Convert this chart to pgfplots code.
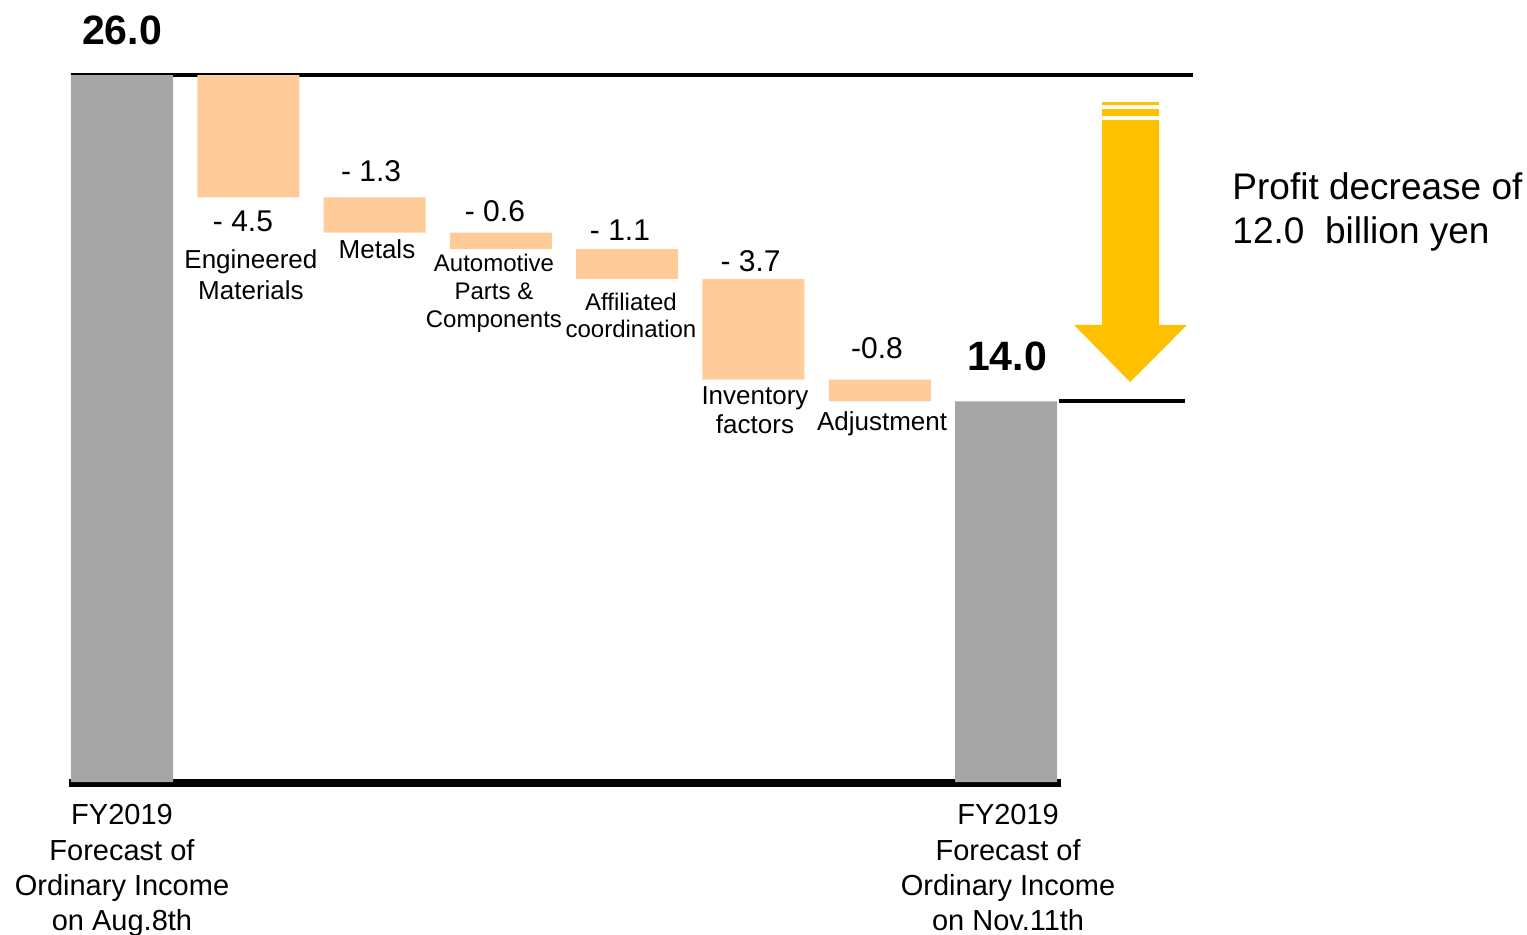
\documentclass[border=0pt]{standalone}
\usepackage{pgfplots}
\pgfplotsset{compat=1.18}
\usepackage{fontspec}
\setmainfont{Liberation Sans}
\definecolor{grayb}{HTML}{A6A6A6}
\definecolor{peach}{HTML}{FFCC99}
\definecolor{gold}{HTML}{FFC000}
\newcommand{\fnum}{\fontsize{30bp}{36bp}\selectfont}
\newcommand{\flab}{\fontsize{26bp}{31bp}\selectfont}
\newcommand{\fsm}{\fontsize{24bp}{29bp}\selectfont}
\newcommand{\fbot}{\fontsize{29bp}{35bp}\selectfont}
\newcommand{\fbig}{\fontsize{41bp}{48bp}\selectfont\bfseries}
\newcommand{\fside}{\fontsize{37bp}{45bp}\selectfont}
\begin{document}
\begin{tikzpicture}
\begin{axis}[
  width=1527bp, height=934bp, scale only axis,
  xmin=-0.966, xmax=11.125, ymin=-5.59, ymax=28.76,
  hide axis, clip=false,
  ybar stacked, bar width=102bp,
  every node/.style={inner sep=0pt, outer sep=0pt},
]
% invisible base
\addplot[draw=none, fill=none] coordinates {(0,0) (1,21.5) (2,20.2) (3,19.6) (4,18.5) (5,14.8) (6,14.0) (7,0)};
% totals
\addplot[draw=none, fill=grayb] coordinates {(0,26.0) (1,0) (2,0) (3,0) (4,0) (5,0) (6,0) (7,14.0)};
% changes
\addplot[draw=none, fill=peach] coordinates {(0,0) (1,4.5) (2,1.3) (3,0.6) (4,1.1) (5,3.7) (6,0.8) (7,0)};

% reference lines
\draw[line width=4bp] (axis cs:-0.404,26) -- (axis cs:8.481,26);
\draw[line width=8bp] (axis cs:-0.420,-0.037) -- (axis cs:7.435,-0.037);
\draw[line width=4bp] (axis cs:7.419,14) -- (axis cs:8.417,14);

% arrow
\fill[gold] (axis cs:7.760,24.35) -- (axis cs:8.211,24.35) -- (axis cs:8.211,16.81)
  -- (axis cs:8.433,16.81) -- (axis cs:7.982,14.71) -- (axis cs:7.538,16.81)
  -- (axis cs:7.760,16.81) -- cycle;
\fill[gold] (axis cs:7.760,25.01) rectangle (axis cs:8.211,24.90);
\fill[gold] (axis cs:7.760,24.75) rectangle (axis cs:8.211,24.49);

% value labels
\node[anchor=base] at (axis cs:0,27.11) {\fbig 26.0};
\node[anchor=base] at (axis cs:7.007,15.12) {\fbig 14.0};
\node[anchor=base] at (axis cs:0.958,20.23) {\fnum - 4.5};
\node[anchor=base] at (axis cs:1.972,22.07) {\fnum - 1.3};
\node[anchor=base] at (axis cs:2.953,20.63) {\fnum - 0.6};
\node[anchor=base] at (axis cs:3.943,19.93) {\fnum - 1.1};
\node[anchor=base] at (axis cs:4.977,18.79) {\fnum - 3.7};
\node[anchor=base] at (axis cs:5.978,15.59) {\fnum -0.8};

% category labels
\node[anchor=base] at (axis cs:1.021,18.90) {\flab Engineered};
\node[anchor=base] at (axis cs:1.021,17.76) {\flab Materials};
\node[anchor=base] at (axis cs:2.019,19.27) {\flab Metals};
\node[anchor=base] at (axis cs:2.945,18.79) {\fsm Automotive};
\node[anchor=base] at (axis cs:2.945,17.73) {\fsm Parts \&};
\node[anchor=base] at (axis cs:2.945,16.70) {\fsm Components};
\node[anchor=base] at (axis cs:4.030,17.33) {\fsm Affiliated};
\node[anchor=base] at (axis cs:4.030,16.33) {\fsm coordination};
\node[anchor=base] at (axis cs:5.012,13.87) {\flab Inventory};
\node[anchor=base] at (axis cs:5.012,12.80) {\flab factors};
\node[anchor=base] at (axis cs:6.018,12.91) {\flab Adjustment};

% bottom labels
\node[anchor=base] at (axis cs:0,-1.581) {\fbot FY2019};
\node[anchor=base] at (axis cs:0,-2.869) {\fbot Forecast of};
\node[anchor=base] at (axis cs:0,-4.156) {\fbot Ordinary Income};
\node[anchor=base] at (axis cs:0,-5.443) {\fbot on Aug.8th};
\node[anchor=base] at (axis cs:7.016,-1.581) {\fbot FY2019};
\node[anchor=base] at (axis cs:7.016,-2.869) {\fbot Forecast of};
\node[anchor=base] at (axis cs:7.016,-4.156) {\fbot Ordinary Income};
\node[anchor=base] at (axis cs:7.016,-5.443) {\fbot on Nov.11th};

% side text
\node[anchor=base west] at (axis cs:8.765,21.44) {\fside Profit decrease of};
\node[anchor=base west] at (axis cs:8.765,19.79) {\fside 12.0\ \ billion yen};
\end{axis}
\pgfresetboundingbox
\path[use as bounding box] (current axis.south west) rectangle (current axis.north east);
\end{tikzpicture}
\end{document}
